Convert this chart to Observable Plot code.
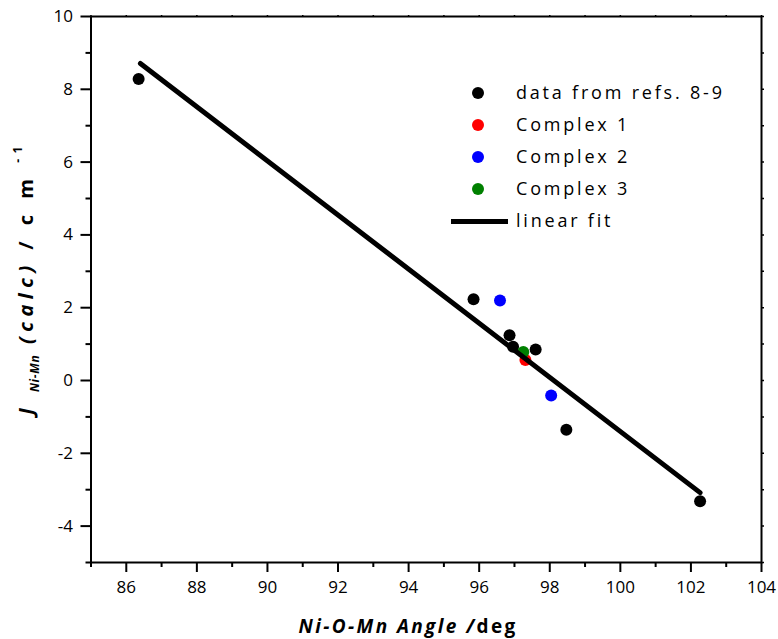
<!DOCTYPE html>
<html><head><meta charset="utf-8">
<script src="https://cdn.jsdelivr.net/npm/d3@7"></script>
<script src="https://cdn.jsdelivr.net/npm/@observablehq/plot@0.6"></script>
<style>
body{margin:0;background:#fff;}
#wrap{position:relative;width:778px;height:639px;font-family:"Open Sans",sans-serif;color:#000;}
.leg{position:absolute;font-size:18px;letter-spacing:2.8px;white-space:nowrap;line-height:22px;}
.xt{position:absolute;font-weight:bold;font-size:19px;letter-spacing:2.4px;white-space:nowrap;line-height:24px;}
.yt{position:absolute;font-weight:bold;font-size:20px;letter-spacing:5.5px;white-space:nowrap;line-height:24px;transform:translate(-50%,-50%) rotate(-90deg);}
.yt sub{font-size:12px;letter-spacing:0.6px;vertical-align:-6px;}
.yt sup{font-size:12px;vertical-align:11px;}
</style></head><body><div id="wrap"></div>
<script>
// Data
const refsAngle = [86.35, 95.84, 96.86, 96.96, 97.60, 98.47, 102.26];
const refsJ     = [8.28, 2.23, 1.24, 0.93, 0.85, -1.35, -3.32];
const complex1Angle = [97.31];
const complex1J     = [0.56];
const complex2Angle = [96.59, 98.04];
const complex2J     = [2.20, -0.41];
const complex3Angle = [97.25];
const complex3J     = [0.78];
const fitAngle = [86.40, 102.26];
const fitJ     = [8.71, -3.08];
const xTicks = [86, 88, 90, 92, 94, 96, 98, 100, 102, 104];
const xMinor = [85, 87, 89, 91, 93, 95, 97, 99, 101, 103];
const yTicks = [-4, -2, 0, 2, 4, 6, 8, 10];
const yMinor = [-5, -3, -1, 1, 3, 5, 7, 9];
const legendLabels = ["data from refs. 8-9", "Complex 1", "Complex 2", "Complex 3", "linear fit"];
const legendColors = ["#000000", "#ff0000", "#0000ff", "#008000", null];

const pts = (xs, ys, s) => xs.map((x, i) => ({x, y: ys[i], s}));
const dots = [
  ...pts(refsAngle, refsJ, "refs"),
  ...pts(complex2Angle, complex2J, "c2"),
  ...pts(complex1Angle, complex1J, "c1"),
  ...pts(complex3Angle, complex3J, "c3")
];
const fit = pts(fitAngle, fitJ, "fit");
const colorOf = {refs: "#000000", c1: "#ff0000", c2: "#0000ff", c3: "#008000"};
const fmt = d => String(d);

const chart = Plot.plot({
  width: 778, height: 639,
  marginLeft: 90.5, marginRight: 17, marginTop: 16, marginBottom: 77,
  style: {fontFamily: "Open Sans, sans-serif", fontSize: "17px", color: "#000", background: "#fff"},
  x: {domain: [85, 104]},
  y: {domain: [-5, 10]},
  marks: [
    Plot.axisX({ticks: xTicks, tickFormat: fmt, tickSize: 10, tickPadding: 8, strokeWidth: 2, label: null, fontSize: 17}),
    Plot.axisX({ticks: xMinor, tickSize: 5, text: null, strokeWidth: 2, label: null}),
    Plot.axisY({ticks: yTicks, tickFormat: fmt, tickSize: 10, tickPadding: 8, strokeWidth: 2, label: null, fontSize: 17}),
    Plot.axisY({ticks: yMinor, tickSize: 5, text: null, strokeWidth: 2, label: null}),
    Plot.axisX({anchor: "top", ticks: [...xTicks, ...xMinor], tickSize: 2, text: null, strokeWidth: 1.5, label: null}),
    Plot.axisY({anchor: "right", ticks: [...yTicks, ...yMinor], tickSize: 2, text: null, strokeWidth: 1.5, label: null}),
    Plot.frame({stroke: "#000", strokeWidth: 2}),
    Plot.dot(dots, {x: "x", y: "y", r: 6, fill: d => colorOf[d.s], stroke: "none"}),
    Plot.line(fit, {x: "x", y: "y", stroke: "#000", strokeWidth: 5})
  ]
});
const wrap = document.getElementById("wrap");
wrap.appendChild(chart);

// Legend (HTML overlay)
legendLabels.forEach((lab, i) => {
  const cy = 93 + i * 32;
  if (legendColors[i]) {
    const d = document.createElement("div");
    d.style.cssText = `position:absolute;left:${478-6}px;top:${cy-6}px;width:12px;height:12px;border-radius:50%;background:${legendColors[i]};`;
    wrap.appendChild(d);
  } else {
    const l = document.createElement("div");
    l.style.cssText = `position:absolute;left:451px;top:${cy-2.5}px;width:57px;height:5px;background:#000;`;
    wrap.appendChild(l);
  }
  const t = document.createElement("div");
  t.className = "leg";
  t.style.left = "516px";
  t.style.top = (cy - 12) + "px";
  t.textContent = lab;
  wrap.appendChild(t);
});

// X axis title
const xt = document.createElement("div");
xt.className = "xt";
xt.innerHTML = "<i>Ni-O-Mn Angle /</i>deg";
wrap.appendChild(xt);
xt.style.left = (408 - xt.offsetWidth / 2) + "px";
xt.style.top = "614px";

// Y axis title
const yt = document.createElement("div");
yt.className = "yt";
yt.innerHTML = "<i>J</i> <sub><i>Ni-Mn</i></sub> <i>(calc)</i> / c m <sup>-1</sup>";
yt.style.left = "26px";
yt.style.top = "278px";
wrap.appendChild(yt);
</script>
</body></html>
